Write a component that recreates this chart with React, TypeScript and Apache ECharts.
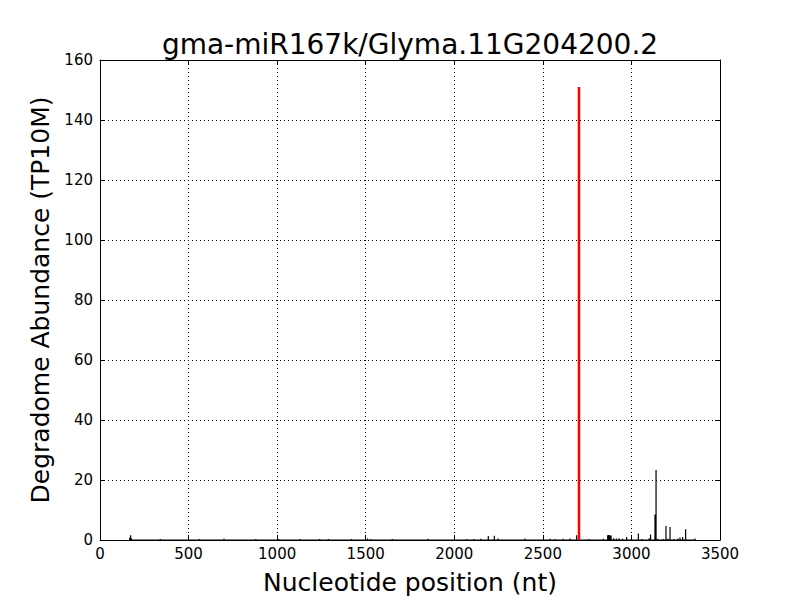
import React, { useEffect, useRef } from "react";
import * as echarts from "echarts";

const TITLE = "gma-miR167k/Glyma.11G204200.2";
const X_NAME = "Nucleotide position (nt)";
const Y_NAME = "Degradome Abundance (TP10M)";

// Degradome read abundance per position (black)
const positions = [
  168, 173, 178, 340, 385, 450, 560, 700, 800, 880, 1010, 1130, 1160, 1240, 1290, 1340,
  1420, 1510, 1530, 1650, 1720, 1852, 1900, 2070, 2110, 2150, 2192, 2226, 2247, 2320,
  2399, 2541, 2569, 2615, 2653, 2691, 2760, 2841, 2866, 2872, 2878, 2885, 2900, 2915,
  2930, 2950, 2973, 3000, 3039, 3060, 3100, 3108, 3133, 3139, 3150, 3180, 3195, 3205,
  3218, 3240, 3262, 3274, 3289, 3306, 3359,
];
const abundance = [
  0.8, 1.6, 0.5, 0.3, 0.2, 0.2, 0.3, 0.4, 0.2, 0.3, 0.3, 0.3, 0.2, 0.3, 0.3, 0.2,
  0.3, 0.5, 0.3, 0.3, 0.2, 0.4, 0.2, 0.3, 0.3, 0.4, 1.3, 1.4, 0.5, 0.2,
  0.5, 0.4, 0.3, 0.4, 0.5, 1.6, 0.3, 0.4, 1.6, 1.7, 1.6, 1.5, 0.6, 0.5,
  0.6, 0.4, 1.0, 0.5, 2.2, 0.3, 0.6, 1.8, 8.5, 23.3, 0.4, 0.3, 4.7, 0.4,
  4.3, 0.3, 0.5, 0.8, 1.0, 3.6, 0.5,
];

// miRNA target cleavage site (red)
const sitePositions = [2704];
const siteAbundance = [151];

const X_MIN = 0, X_MAX = 3500, X_STEP = 500;
const Y_MIN = 0, Y_MAX = 160, Y_STEP = 20;

function spikes(pos: number[], val: number[]) {
  const out: [number, number][] = [];
  const idx = pos.map((_, i) => i).sort((a, b) => pos[a] - pos[b]);
  idx.forEach((i) => {
    out.push([pos[i], 0], [pos[i], val[i]], [pos[i], 0]);
  });
  return out;
}

const FONT = "DejaVu Sans";

export default function App() {
  const ref = useRef<HTMLDivElement>(null);
  useEffect(() => {
    document.body.style.margin = "0";
    const chart = echarts.init(ref.current!, null, { renderer: "svg" });
    const dotted = { type: [1, 3] as any, color: "#000", width: 1 };
    const baseX = {
      type: "value" as const,
      min: X_MIN,
      max: X_MAX,
      interval: X_STEP,
      axisLine: { show: true, onZero: false, lineStyle: { color: "#000", width: 1 } },
      axisTick: { show: true, inside: true, length: 5, lineStyle: { color: "#000" } },
    };
    const baseY = {
      type: "value" as const,
      min: Y_MIN,
      max: Y_MAX,
      interval: Y_STEP,
      axisLine: { show: true, onZero: false, lineStyle: { color: "#000", width: 1 } },
      axisTick: { show: true, inside: true, length: 5, lineStyle: { color: "#000" } },
    };
    chart.setOption({
      animation: false,
      backgroundColor: "#fff",
      grid: { left: 100, right: 80, top: 60, bottom: 60, containLabel: false },
      graphic: [
        {
          type: "text",
          x: 410,
          y: 44,
          style: {
            text: TITLE,
            font: `28px '${FONT}'`,
            fill: "#000",
            textAlign: "center",
            textVerticalAlign: "middle",
          },
        },
      ],
      xAxis: [
        {
          ...baseX,
          position: "bottom",
          axisLabel: {
            show: true,
            color: "#000",
            fontSize: 15,
            fontFamily: FONT,
            margin: 6,
            formatter: (v: number) => String(v),
          },
          splitLine: { show: true, lineStyle: dotted },
          name: X_NAME,
          nameLocation: "middle",
          nameGap: 30,
          nameTextStyle: { color: "#000", fontSize: 25, fontFamily: FONT },
        },
        {
          ...baseX,
          position: "top",
          axisLabel: { show: false },
          splitLine: { show: false },
        },
      ],
      yAxis: [
        {
          ...baseY,
          position: "left",
          axisLabel: {
            show: true,
            color: "#000",
            fontSize: 15,
            fontFamily: FONT,
            margin: 7,
            formatter: (v: number) => String(v),
          },
          splitLine: { show: true, lineStyle: dotted },
          name: Y_NAME,
          nameLocation: "middle",
          nameGap: 47,
          nameTextStyle: { color: "#000", fontSize: 25, fontFamily: FONT },
        },
        {
          ...baseY,
          position: "right",
          axisLabel: { show: false },
          splitLine: { show: false },
        },
      ],
      series: [
        {
          type: "line",
          xAxisIndex: 0,
          yAxisIndex: 0,
          data: spikes(positions, abundance),
          symbol: "none",
          lineStyle: { color: "#000", width: 1.2 },
          z: 3,
        },
        {
          type: "line",
          xAxisIndex: 0,
          yAxisIndex: 0,
          data: spikes(sitePositions, siteAbundance),
          symbol: "none",
          lineStyle: { color: "#ff0000", width: 2.5 },
          z: 4,
        },
      ],
    });
    return () => chart.dispose();
  }, []);
  return <div ref={ref} style={{ width: 800, height: 600 }} />;
}
